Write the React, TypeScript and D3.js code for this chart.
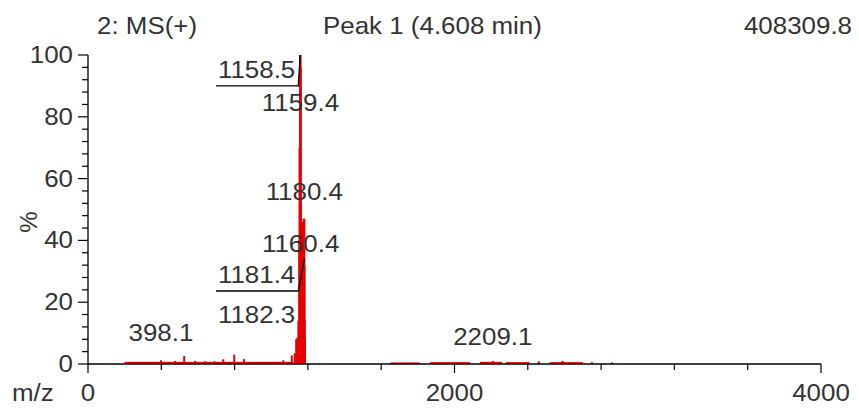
import * as React from "react";
import * as d3 from "d3";

// spectrum sticks: [m/z, relative intensity %]
const peaks: [number, number][] = [
  [398.1, 1.2], [475, 1.0], [525, 2.6], [585, 1.0], [640, 0.9], [690, 0.9],
  [738, 1.5], [798, 3.0], [852, 1.6], [1066, 1.2], [1112, 2.8], [1128, 3.5],
  [1136, 8.0], [1142, 8.5], [1148, 14], [1153, 40], [1156, 70],
  [1158.5, 100], [1159.4, 96], [1160.4, 52], [1162, 46], [1165, 45],
  [1168, 45], [1171, 46], [1174, 46], [1177, 47], [1179, 47],
  [1180.4, 47], [1181.4, 32], [1182.3, 14], [1184, 8],
  [2209.1, 1.0], [2460, 0.9], [2590, 1.0], [2750, 0.6], [2860, 0.5],
];

// low-level noise floor: [from m/z, to m/z, level %]
const noiseBands: [number, number, number][] = [
  [200, 1120, 0.7], [1650, 1810, 0.5], [1866, 2085, 0.6], [2140, 2260, 0.7],
  [2280, 2410, 0.6], [2520, 2700, 0.6],
];

// peak labels: text, peak m/z, peak %, label baseline (%), leader style
type Ann = { text: string; mz: number; pct: number; at: number; side: "center" | "left"; line: boolean };
const annotations: Ann[] = [
  { text: "1158.5", mz: 1158.5, pct: 100, at: 92.6, side: "left", line: true },
  { text: "1159.4", mz: 1159.4, pct: 96, at: 81.9, side: "center", line: false },
  { text: "1180.4", mz: 1180.4, pct: 47, at: 53.1, side: "center", line: false },
  { text: "1160.4", mz: 1160.4, pct: 52, at: 36.2, side: "center", line: false },
  { text: "1181.4", mz: 1181.4, pct: 34, at: 26.2, side: "left", line: true },
  { text: "1182.3", mz: 1182.3, pct: 14, at: 13.3, side: "left", line: false },
  { text: "398.1", mz: 398.1, pct: 1.2, at: 7.4, side: "center", line: false },
  { text: "2209.1", mz: 2209.1, pct: 1.0, at: 6.1, side: "center", line: false },
];

const xTicks = d3.range(0, 4001, 400);
const xLabels = [0, 2000, 4000];
const yMinor = d3.range(0, 101, 4);
const yMajor = [0, 20, 40, 60, 80, 100];

const FS = 24;
const SX = 1.08;
const INK = "#333";

function T({
  x,
  y,
  anchor = "start",
  children,
}: {
  x: number;
  y: number;
  anchor?: "start" | "middle" | "end";
  children: React.ReactNode;
}) {
  return (
    <text
      transform={`translate(${x},${y}) scale(${SX},1)`}
      textAnchor={anchor}
      fill={INK}
    >
      {children}
    </text>
  );
}

export default function App() {
  const width = 859;
  const height = 409;
  const red = "#e60000";

  const x = d3.scaleLinear().domain([0, 4000]).range([88, 821]);
  const y = d3.scaleLinear().domain([0, 100]).range([364, 55]);

  // rough Arial advance widths
  const textW = (s: string) =>
    s.split("").reduce((a, c) => a + (c === "." ? 0.278 : 0.556), 0) * FS * SX;

  return (
    <svg
      width={width}
      height={height}
      style={{ position: "absolute", left: 0, top: 0, background: "#fff" }}
      fontFamily="Liberation Sans, Arial, sans-serif"
      fontSize={FS}
    >
      {/* noise floor */}
      {noiseBands.map(([a, b, l], i) => (
        <rect
          key={i}
          x={x(a)}
          width={x(b) - x(a)}
          y={y(l)}
          height={y(0) - y(l)}
          fill={red}
        />
      ))}
      {/* sticks */}
      {peaks.map(([mz, p], i) => (
        <line
          key={i}
          x1={x(mz)}
          x2={x(mz)}
          y1={y(0)}
          y2={y(p)}
          stroke={red}
          strokeWidth={p > 50 ? 2.6 : 2}
        />
      ))}

      {/* y axis */}
      <line x1={x(0)} x2={x(0)} y1={y(0)} y2={y(100)} stroke="#000" strokeWidth={1.3} />
      {yMinor.map((t) => (
        <line
          key={t}
          x1={x(0) - (yMajor.includes(t) ? 10 : 6)}
          x2={x(0)}
          y1={y(t)}
          y2={y(t)}
          stroke="#000"
          strokeWidth={1.2}
        />
      ))}
      {yMajor.map((t) => (
        <T key={t} x={x(0) - 15} y={y(t) + 8} anchor="end">
          {t}
        </T>
      ))}
      <text
        transform={`translate(${37},${222}) rotate(-90)`}
        textAnchor="middle"
        fill={INK}
      >
        %
      </text>

      {/* x axis */}
      <line x1={x(0)} x2={x(4000)} y1={y(0)} y2={y(0)} stroke="#000" strokeWidth={1.3} />
      {xTicks.map((t) => (
        <line
          key={t}
          x1={x(t)}
          x2={x(t)}
          y1={y(0)}
          y2={y(0) + (xLabels.includes(t) ? 9 : 6)}
          stroke="#000"
          strokeWidth={1.2}
        />
      ))}
      {xLabels.map((t) => (
        <T key={t} x={x(t)} y={401} anchor="middle">
          {t}
        </T>
      ))}
      <T x={12} y={401}>
        m/z
      </T>

      {/* header */}
      <T x={97} y={34}>
        2: MS(+)
      </T>
      <T x={323} y={34}>
        Peak 1 (4.608 min)
      </T>
      <T x={852} y={34} anchor="end">
        408309.8
      </T>

      {/* peak labels */}
      {annotations.map((a, i) => {
        const px = x(a.mz);
        const ly = y(a.at);
        if (a.side === "center") {
          return (
            <T key={i} x={px} y={ly} anchor="middle">
              {a.text}
            </T>
          );
        }
        const right = x(1158.5) - 5;
        const w = textW(a.text);
        return (
          <g key={i}>
            <T x={right} y={ly} anchor="end">
              {a.text}
            </T>
            {a.line && (
              <polyline
                points={`${right - w},${ly + 8} ${right + 3},${ly + 8} ${px},${y(a.pct)}`}
                fill="none"
                stroke="#000"
                strokeWidth={1.4}
              />
            )}
          </g>
        );
      })}
    </svg>
  );
}
